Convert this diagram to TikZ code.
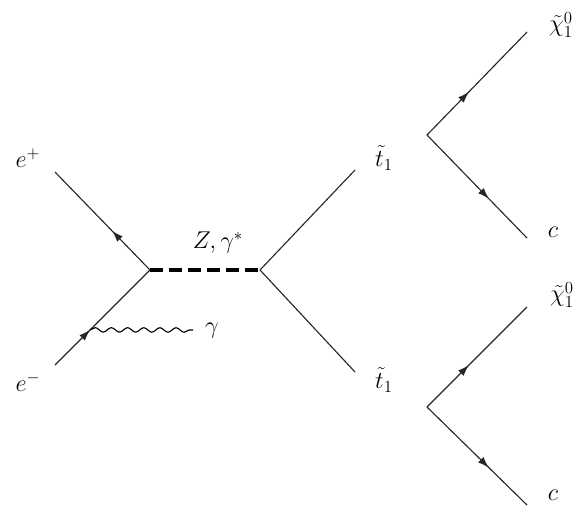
\documentclass[tikz,border=0pt]{standalone}
\usetikzlibrary{calc,arrows.meta,decorations.markings,decorations.pathmorphing}
\tikzset{
    fd line/.style={line width=0.8pt, black!85},
    fd arrow/.style={fd line, postaction={decorate},
                     decoration={markings,
                       mark=at position #1 with
                         {\arrow{Latex[length=8pt,width=5.5pt]}}}},
    fd dash/.style={line width=2.6pt, dash pattern=on 9pt off 4.5pt},
    fd photon/.style={line width=0.8pt, decorate,
                      decoration={snake, amplitude=1.6pt,
                                  segment length=11.5pt}},
    fd lbl/.style={font=\LARGE, inner sep=1pt},
}
\begin{document}
\begin{tikzpicture}[x=0.025cm, y=-0.025cm]
    \useasboundingbox (0,0) rectangle (584,509);
    % Vertices
    \coordinate (v1) at (150,270);
    \coordinate (v2) at (260,270);
    \coordinate (va) at (427,135);
    \coordinate (vb) at (427,407);
    % Outer ends
    \coordinate (ep) at (55,172);
    \coordinate (em) at (55,365);
    \coordinate (st) at (355,170);
    \coordinate (sb) at (355,372);
    \coordinate (xa) at (527,32);
    \coordinate (ca) at (527,238);
    \coordinate (xb) at (527,307);
    \coordinate (cb) at (527,505);
    \coordinate (gv) at ($(em)!0.37!(v1)$);
    \coordinate (ge) at (193,330);
    % Labels
    \node[fd lbl] (lep) at (28,158) {$e^+$};
    \node[fd lbl] (lem) at (28,382) {$e^-$};
    \node[fd lbl] (lz)  at (218,243) {$Z,\gamma^*$};
    \node[fd lbl] (lg)  at (212,331) {$\gamma$};
    \node[fd lbl] (lst) at (384,158) {$\tilde{t}_1$};
    \node[fd lbl] (lsb) at (384,380) {$\tilde{t}_1$};
    \node[fd lbl] (lxa) at (561,25)  {$\tilde{\chi}^0_1$};
    \node[fd lbl] (lca) at (553,232) {$c$};
    \node[fd lbl] (lxb) at (562,295) {$\tilde{\chi}^0_1$};
    \node[fd lbl] (lcb) at (553,495) {$c$};
    % Production
    \draw[fd arrow=0.4] (v1) -- (ep);
    \draw[fd arrow=0.37] (em) -- (v1);
    \draw[fd photon] (gv) -- (ge);
    \draw[fd dash] (v1) -- (v2);
    \draw[fd line] (v2) -- (st);
    \draw[fd line] (v2) -- (sb);
    % Decays
    \draw[fd arrow=0.42] (va) -- (xa);
    \draw[fd arrow=0.62] (va) -- (ca);
    \draw[fd arrow=0.42] (vb) -- (xb);
    \draw[fd arrow=0.62] (vb) -- (cb);
\end{tikzpicture}
\end{document}
